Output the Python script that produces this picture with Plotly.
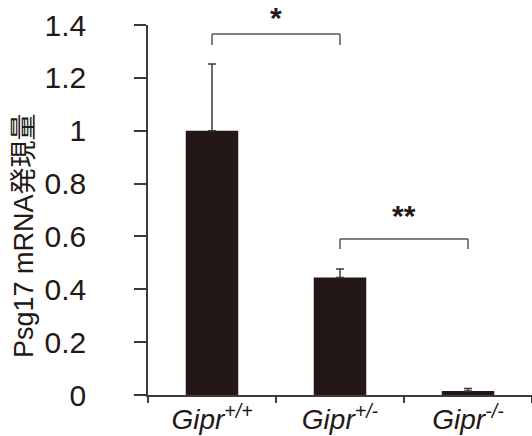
import plotly.graph_objects as go

categories = ["Gipr<sup>+/+</sup>", "Gipr<sup>+/-</sup>", "Gipr<sup>-/-</sup>"]
values = [1.0, 0.445, 0.015]
errors = [0.252, 0.032, 0.01]
y_ticks = [0, 0.2, 0.4, 0.6, 0.8, 1, 1.2, 1.4]
y_ticktext = ["0", "0.2", "0.4", "0.6", "0.8", "1", "1.2", "1.4"]
y_title = "Psg17 mRNA発現量"
# significance brackets: (left idx, right idx, bracket y, leg bottom y, label, label y)
brackets = [(0, 1, 1.366, 1.324, "*", 1.43), (1, 2, 0.59, 0.552, "**", 0.68)]

BAR = "#231815"
AX = "#3e3a39"
BR = "#595757"

W, H = 532, 436
ML, MR, MT, MB = 148, 0, 25, 41
PW, PH = W - ML - MR, H - MT - MB
YMAX = 1.4

fig = go.Figure()
fig.add_trace(go.Bar(
    x=categories, y=values, width=0.41,
    marker=dict(color=BAR, line=dict(width=0)),
    error_y=dict(type="data", array=errors, arrayminus=[0]*len(errors), symmetric=False,
                 color=AX, thickness=1.5, width=4),
))

shapes = []
annotations = []
for l, r, yb, yl, lab, ly in brackets:
    xl, xr = categories[l], categories[r]
    for (x0, x1, y0, y1) in [(xl, xr, yb, yb), (xl, xl, yl, yb), (xr, xr, yl, yb)]:
        shapes.append(dict(type="line", xref="x", yref="y", x0=x0, x1=x1, y0=y0, y1=y1,
                           line=dict(color=BR, width=1.5)))
    annotations.append(dict(x=(l + r) / 2, y=ly / YMAX, xref="x", yref="paper", text="<b>" + lab + "</b>",
                            showarrow=False, xanchor="center", yanchor="middle",
                            font=dict(family="Liberation Sans", size=30, color=BAR)))

annotations.append(dict(x=(24 - ML) / PW, y=(H - MB - 236) / PH, xref="paper", yref="paper",
                        text=y_title, showarrow=False, textangle=-90,
                        xanchor="center", yanchor="middle",
                        font=dict(family="Liberation Sans, Noto Sans CJK JP", size=27, color=BAR)))

fig.update_layout(
    width=W, height=H,
    margin=dict(l=ML, r=MR, t=MT, b=MB, autoexpand=False),
    paper_bgcolor="white", plot_bgcolor="white",
    showlegend=False, bargap=0.59,
    shapes=shapes, annotations=annotations,
)

fig.update_xaxes(
    type="category", range=[-0.5, 2.5], showline=True, linecolor=AX, linewidth=1.5,
    ticks="outside", tickson="boundaries", ticklen=6, tickcolor=AX, tickwidth=1.5,
    tickfont=dict(family="Liberation Sans", size=28, color=BAR, style="italic"),
    showgrid=False, zeroline=False, ticklabelstandoff=-1, automargin=False,
)
fig.update_yaxes(
    range=[0, YMAX], showline=True, linecolor=AX, linewidth=1.5,
    ticks="outside", ticklen=12, tickcolor=AX, tickwidth=1.5,
    tickvals=y_ticks, ticktext=y_ticktext,
    tickfont=dict(family="Liberation Sans", size=30, color=BAR),
    showgrid=False, zeroline=False, ticklabelstandoff=42, automargin=False,
)

fig.write_html("out.html", config={"displayModeBar": False},
               post_script="document.body.style.margin='0';")
